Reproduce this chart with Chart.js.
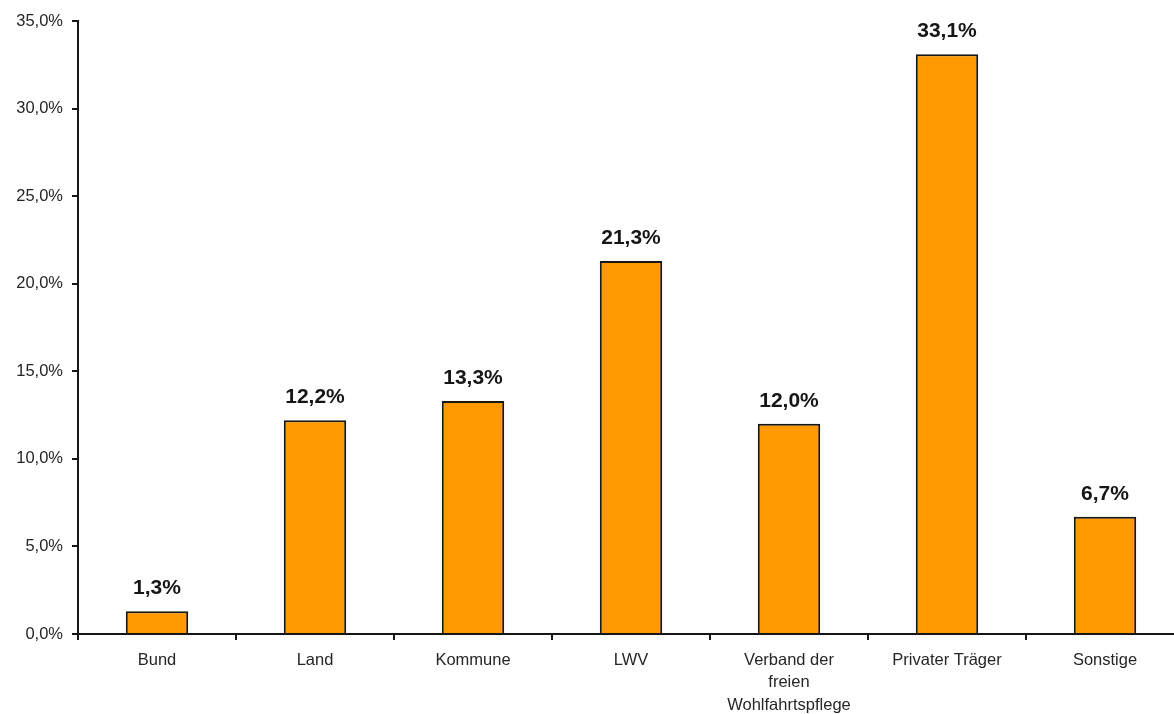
<!DOCTYPE html>
<html><head><meta charset="utf-8">
<script src="https://cdn.jsdelivr.net/npm/chart.js@4/dist/chart.umd.min.js"></script>
<style>
html,body{margin:0;padding:0;background:#fff;overflow:hidden;width:1174px;height:714px}
#wrap{width:1190px;height:730px;position:relative}
</style></head>
<body>
<div id="wrap"><canvas id="c" width="1190" height="730"></canvas></div>
<script>
const categories = ["Bund", "Land", "Kommune", "LWV", ["Verband der", "freien", "Wohlfahrtspflege"], "Privater Träger", "Sonstige"];
const values = [1.3, 12.2, 13.3, 21.3, 12.0, 33.1, 6.7];
const yTicks = [0, 5, 10, 15, 20, 25, 30, 35];

const fmt = v => v.toFixed(1).replace('.', ',') + '%';
const FONT = '"Liberation Sans", Arial, sans-serif';

const labelPlugin = {
  id: 'vals',
  afterDatasetsDraw(chart) {
    const ctx = chart.ctx;
    const meta = chart.getDatasetMeta(0);
    ctx.save();
    ctx.font = 'bold 21px ' + FONT;
    ctx.fillStyle = '#161616';
    ctx.textAlign = 'center';
    ctx.textBaseline = 'alphabetic';
    meta.data.forEach((bar, i) => {
      ctx.fillText(fmt(values[i]), bar.x, bar.y - 17);
    });
    ctx.restore();
  }
};

new Chart(document.getElementById('c'), {
  type: 'bar',
  data: {
    labels: categories,
    datasets: [{
      data: values,
      backgroundColor: '#FF9900',
      borderColor: '#161616',
      borderWidth: 2,
      barPercentage: 0.5,
      categoryPercentage: 0.79
    }]
  },
  options: {
    responsive: false,
    animation: false,
    devicePixelRatio: 1,
    layout: { padding: { top: 21, right: 6, left: 0, bottom: 0 } },
    plugins: { legend: { display: false }, tooltip: { enabled: false } },
    scales: {
      x: {
        offset: true,
        grid: { display: true, drawOnChartArea: false, drawTicks: true, tickLength: 6, color: '#161616', lineWidth: 2, offset: true },
        border: { display: true, color: '#161616', width: 2 },
        ticks: { color: '#262626', font: { family: FONT, size: 16.5, lineHeight: 1.36 }, padding: 9, maxRotation: 0, autoSkip: false },
        afterFit(s) { s.height = 96; }
      },
      y: {
        min: 0, max: 35,
        afterBuildTicks(s) { s.ticks = yTicks.map(v => ({ value: v })); },
        grid: { display: true, drawOnChartArea: false, drawTicks: true, tickLength: 6, color: '#161616', lineWidth: 2 },
        border: { display: true, color: '#161616', width: 2 },
        ticks: { color: '#262626', font: { family: FONT, size: 16.5 }, padding: 9, callback: v => fmt(v) },
        afterFit(s) { s.width = 78; }
      }
    }
  },
  plugins: [labelPlugin]
});
</script>
</body></html>
